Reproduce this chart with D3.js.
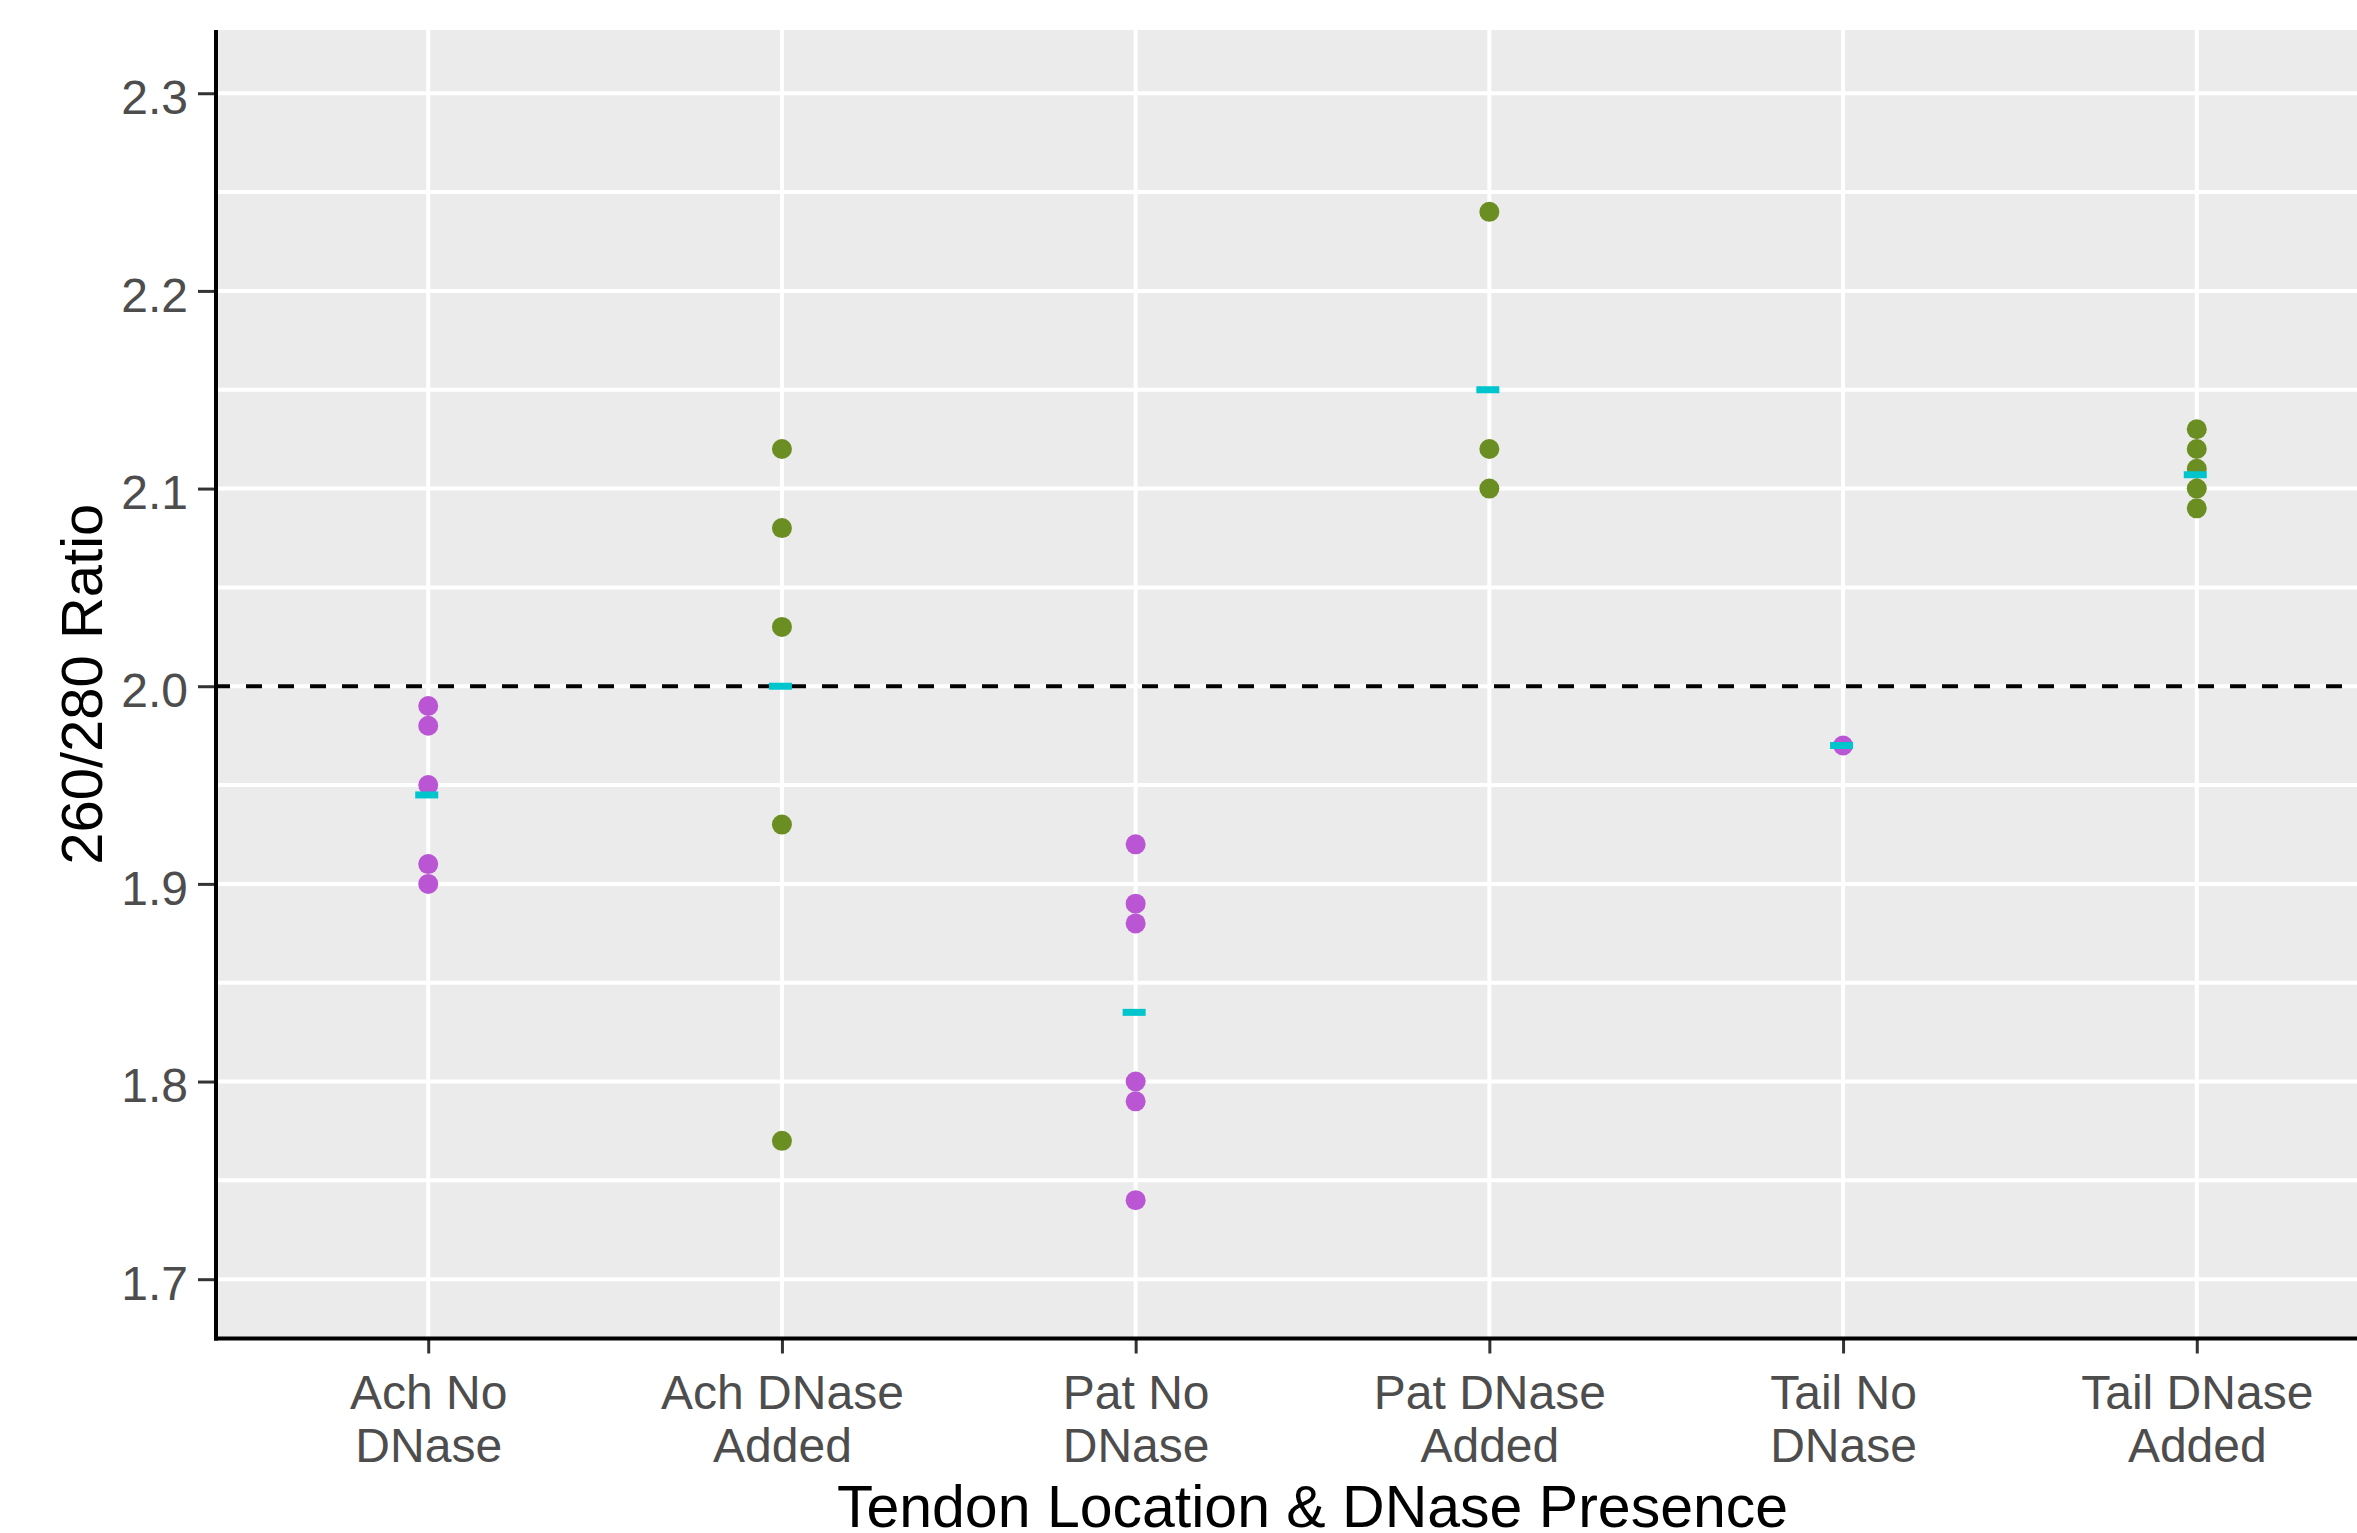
<!DOCTYPE html>
<html>
<head>
<meta charset="utf-8">
<script src="https://cdn.jsdelivr.net/npm/d3@7"></script>
<style>
  body { margin: 0; background: #fff; }
  svg { display: block; font-family: "Liberation Sans", Arial, sans-serif; }
</style>
</head>
<body>
<svg id="chart"></svg>
<script>
// categories and readings taken from the plot
const categories = ["Ach No DNase", "Ach DNase Added", "Pat No DNase", "Pat DNase Added", "Tail No DNase", "Tail DNase Added"];
const tickLines = [["Ach No", "DNase"], ["Ach DNase", "Added"], ["Pat No", "DNase"], ["Pat DNase", "Added"], ["Tail No", "DNase"], ["Tail DNase", "Added"]];
const dnase = ["No", "Added", "No", "Added", "No", "Added"];

const achNo = [1.99, 1.98, 1.95, 1.91, 1.90];
const achAdded = [2.12, 2.08, 2.03, 1.93, 1.77];
const patNo = [1.92, 1.89, 1.88, 1.80, 1.79, 1.74];
const patAdded = [2.24, 2.12, 2.10];
const tailNo = [1.97];
const tailAdded = [2.13, 2.12, 2.11, 2.10, 2.09];
const groupMeans = [1.945, 2.0, 1.835, 2.15, 1.97, 2.107];

const yTicks = [1.7, 1.8, 1.9, 2.0, 2.1, 2.2, 2.3];
const yMinor = [1.75, 1.85, 1.95, 2.05, 2.15, 2.25];
const refLine = 2.0;

const groups = [achNo, achAdded, patNo, patAdded, tailNo, tailAdded];
const points = [];
groups.forEach((vals, i) => vals.forEach(v => points.push({ cat: categories[i], value: v, dnase: dnase[i] })));

const width = 2357;
const height = 1533;
// the panel runs past the right edge, as in the original export
const margin = { top: 30, right: -52, bottom: 194.5, left: 216 };

const svg = d3.select("#chart")
    .attr("width", width)
    .attr("height", height);

const x = d3.scalePoint()
    .domain(categories)
    .range([margin.left, width - margin.right])
    .padding(0.6);

const y = d3.scaleLinear()
    .domain([1.67, 2.332])
    .range([height - margin.bottom, margin.top]);

const color = d3.scaleOrdinal()
    .domain(["No", "Added"])
    .range(["#BA55D3", "#6B8E23"]);

const panelW = width - margin.right - margin.left;
const panelBottom = height - margin.bottom;

// panel background
svg.append("rect")
    .attr("x", margin.left)
    .attr("y", margin.top)
    .attr("width", panelW)
    .attr("height", panelBottom - margin.top)
    .attr("fill", "#EBEBEB");

// grid lines
svg.append("g")
    .selectAll("line")
    .data(yMinor.concat(yTicks))
    .join("line")
    .attr("x1", margin.left)
    .attr("x2", width - margin.right)
    .attr("y1", d => y(d))
    .attr("y2", d => y(d))
    .attr("stroke", "#fff")
    .attr("stroke-width", 4);

svg.append("g")
    .selectAll("line")
    .data(categories)
    .join("line")
    .attr("x1", d => x(d))
    .attr("x2", d => x(d))
    .attr("y1", margin.top)
    .attr("y2", panelBottom)
    .attr("stroke", "#fff")
    .attr("stroke-width", 4);

// reference line at 2.0
svg.append("line")
    .attr("x1", margin.left - 2)
    .attr("x2", width - margin.right)
    .attr("y1", y(refLine))
    .attr("y2", y(refLine))
    .attr("stroke", "#000")
    .attr("stroke-width", 4)
    .attr("stroke-dasharray", "16,16");

// points
svg.append("g")
    .selectAll("circle")
    .data(points)
    .join("circle")
    .attr("cx", d => x(d.cat))
    .attr("cy", d => y(d.value))
    .attr("r", 10)
    .attr("fill", d => color(d.dnase));

// mean marks
svg.append("g")
    .selectAll("rect")
    .data(groupMeans)
    .join("rect")
    .attr("x", (d, i) => x(categories[i]) - 13)
    .attr("y", d => y(d) - 3.5)
    .attr("width", 23)
    .attr("height", 7)
    .attr("fill", "#00C5CD");

// axes
const yAxis = svg.append("g")
    .attr("transform", `translate(${margin.left}, 0)`)
    .call(d3.axisLeft(y).tickValues(yTicks).tickFormat(d3.format(".1f")).tickSize(18).tickPadding(10));
yAxis.select(".domain").remove();
yAxis.selectAll(".tick line").attr("stroke", "#333").attr("stroke-width", 3);
yAxis.selectAll(".tick text")
    .attr("fill", "#4D4D4D")
    .attr("font-size", 48)
    .attr("dy", "0.42em");

const xAxis = svg.append("g")
    .attr("transform", `translate(0, ${panelBottom})`)
    .call(d3.axisBottom(x).tickSize(15).tickFormat(""));
xAxis.select(".domain").remove();
xAxis.selectAll(".tick line").attr("stroke", "#333").attr("stroke-width", 3);
xAxis.selectAll(".tick")
    .append("text")
    .attr("fill", "#4D4D4D")
    .attr("font-size", 48)
    .attr("text-anchor", "middle")
    .selectAll("tspan")
    .data((d, i) => tickLines[i])
    .join("tspan")
    .attr("x", 0)
    .attr("y", (d, i) => 70 + i * 53)
    .text(d => d);

// axis lines
svg.append("line")
    .attr("x1", margin.left)
    .attr("x2", margin.left)
    .attr("y1", margin.top)
    .attr("y2", panelBottom + 2)
    .attr("stroke", "#000")
    .attr("stroke-width", 4);

svg.append("line")
    .attr("x1", margin.left - 2)
    .attr("x2", width - margin.right)
    .attr("y1", panelBottom)
    .attr("y2", panelBottom)
    .attr("stroke", "#000")
    .attr("stroke-width", 4);

// axis titles
svg.append("text")
    .attr("x", margin.left + panelW / 2)
    .attr("y", 1527)
    .attr("text-anchor", "middle")
    .attr("font-size", 59)
    .attr("fill", "#000")
    .text("Tendon Location & DNase Presence");

svg.append("text")
    .attr("transform", `translate(102, ${(margin.top + panelBottom) / 2}) rotate(-90)`)
    .attr("text-anchor", "middle")
    .attr("font-size", 58)
    .attr("fill", "#000")
    .text("260/280 Ratio");
</script>
</body>
</html>
